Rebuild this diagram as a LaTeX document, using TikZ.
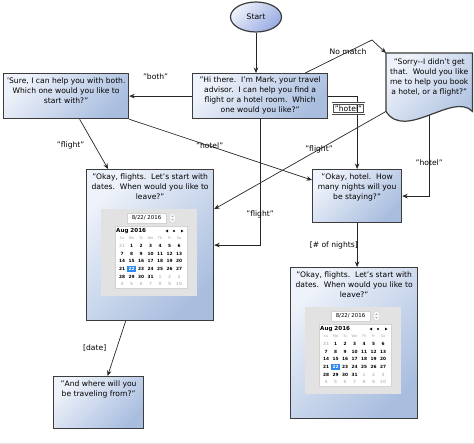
\documentclass[tikz,border=0pt]{standalone}
\usepackage{fontspec}
\setmainfont{DejaVu Sans}
\usetikzlibrary{positioning,arrows.meta,shapes.geometric}

\definecolor{boxlight}{HTML}{EEF2FA}
\definecolor{boxdark}{HTML}{A9BEDF}
\definecolor{boxline}{HTML}{3C3C3C}
\definecolor{calgray}{HTML}{E2E2E2}
\definecolor{calblue}{HTML}{2E8AEF}

\tikzset{
  box/.style={draw=boxline, line width=1.2pt, top color=boxlight, bottom color=boxdark, shading angle=45, anchor=north west, inner sep=0pt},
  startnode/.style={ellipse, draw=boxline, line width=1.2pt, top color=boxlight, bottom color=boxdark!90!blue, shading angle=45, minimum width=51pt, minimum height=30pt, inner sep=0pt, font=\fontsize{7.6}{9}\selectfont},
  boxtext/.style={font=\fontsize{7.6}{9.7}\selectfont, align=center, inner sep=0pt},
  lbl/.style={font=\fontsize{7.6}{9}\selectfont, inner sep=1pt},
  selbox/.style={lbl, draw=black!70, double=white, double distance=0.9pt, line width=0.7pt, inner sep=2pt},
  link/.style={->, draw=black!85, line width=0.7pt},
  calday/.style={font=\fontsize{4.3}{5}\selectfont\bfseries, inner sep=0pt},
  caldim/.style={calday, text=gray!45},
  calhead/.style={font=\fontsize{3.6}{4}\selectfont, text=gray!70, inner sep=0pt},
  calmonth/.style={font=\fontsize{5.6}{6}\selectfont\bfseries, inner sep=0pt},
  calfield/.style={draw=gray!35, fill=white, font=\fontsize{5.4}{6}\selectfont, inner sep=0pt},
  calframe/.style={draw=gray!35, fill=white}
}

% date picker widget, #1 = top left of the grey panel, #2 = name prefix
\newcommand{\datepicker}[2]{%
  \begin{scope}[shift={(#1)}]
    \fill[calgray] (0,0) rectangle (96,87);
    \node[calfield, minimum width=39pt, minimum height=10pt] (#2field) at (45.5,9) {8/22/ 2016};
    \draw[calframe, rounded corners=2pt] (69,4.5) rectangle (74,13.5);
    \fill[gray!60] (70.2,8) -- (72.8,8) -- (71.5,6.2) -- cycle;
    \fill[gray!60] (70.2,10) -- (72.8,10) -- (71.5,11.8) -- cycle;
    \draw[calframe] (14,17) rectangle (86,79);
    \node[calmonth, anchor=west] (#2month) at (15,22) {Aug 2016};
    \fill (64.5,22) -- (67,20.6) -- (67,23.4) -- cycle;
    \fill (73,22) circle (1.2);
    \fill (82.5,22) -- (80,20.6) -- (80,23.4) -- cycle;
    \foreach \d [count=\i] in {Su,Mo,Tu,We,Th,Fr,Sa}
      \node[calhead] (#2h\i) at (11.5+9.5*\i,29) {\d};
    \node[caldim] (#2a1) at (21,37) {31};
    \foreach \d [count=\i from 2] in {1,...,6}
      \node[calday] (#2a\i) at (11.5+9.5*\i,37) {\d};
    \foreach \d [count=\i] in {7,...,13}
      \node[calday] (#2b\i) at (11.5+9.5*\i,45) {\d};
    \foreach \d [count=\i] in {14,...,20}
      \node[calday] (#2c\i) at (11.5+9.5*\i,52) {\d};
    \fill[calblue] (26,57) rectangle (35,63);
    \node[calday] (#2d1) at (21,60) {21};
    \node[calday, text=white] (#2d2) at (30.5,60) {22};
    \foreach \d [count=\i from 3] in {23,...,27}
      \node[calday] (#2d\i) at (11.5+9.5*\i,60) {\d};
    \foreach \d [count=\i] in {28,...,31}
      \node[calday] (#2e\i) at (11.5+9.5*\i,68) {\d};
    \foreach \d [count=\i from 5] in {1,2,3}
      \node[caldim] (#2e\i) at (11.5+9.5*\i,68) {\d};
    \foreach \d [count=\i] in {4,...,10}
      \node[caldim] (#2f\i) at (11.5+9.5*\i,75) {\d};
  \end{scope}}

\begin{document}
\begin{tikzpicture}[x=1pt, y=-1pt, >={Stealth[length=5.5pt,width=4.5pt]}]
  \useasboundingbox (0,0) rectangle (474,444);
  \draw[gray!20] (0,443) -- (474,443);

  % boxes
  \node[startnode] (start) at (256,17) {Start};
  \node[box, minimum width=135pt, minimum height=45pt] (hi) at (192,73) {};
  \node[boxtext, below=4pt of hi.north] (hitext) {"Hi there.\ \ I'm Mark, your travel\\advisor.\ \ I can help you find a\\flight or a hotel room.\ \ Which\\one would you like?"};
  \node[box, minimum width=125pt, minimum height=45pt] (sure) at (3,73) {};
  \node[boxtext, below=5pt of sure.north] (suretext) {'Sure, I can help you with both.\\Which one would you like to\\start with?"};
  \node[inner sep=0pt, minimum width=86pt, minimum height=58pt, anchor=north west] (sorry) at (386,53) {};
  \shadedraw[draw=boxline, line width=1.2pt, top color=boxlight, bottom color=boxdark, shading angle=45]
    (sorry.south west) -- (sorry.north west) -- (sorry.north east) -- (sorry.south east)
    .. controls ([xshift=-19pt,yshift=20pt]sorry.south east) and ([xshift=19pt,yshift=-30pt]sorry.south west) .. (sorry.south west) -- cycle;
  \node[boxtext, below=6pt of sorry.north] (sorrytext) {"Sorry-{}-I didn't get\\that.\ \ Would you like\\me to help you book\\a hotel, or a flight?"};
  \node[box, minimum width=89pt, minimum height=53pt] (hotel) at (312,169) {};
  \node[boxtext, below=5pt of hotel.north] (hoteltext) {"Okay, hotel.\ \ How\\many nights will you\\be staying?"};
  \node[box, minimum width=127pt, minimum height=151pt] (fl1) at (86,169) {};
  \node[boxtext, below=5pt of fl1.north] (fl1text) {"Okay, flights.\ \ Let's start with\\dates.\ \ When would you like to\\leave?"};
  \datepicker{101,209}{ca}
  \node[box, minimum width=127pt, minimum height=151pt] (fl2) at (290,267) {};
  \node[boxtext, below=5pt of fl2.north] (fl2text) {"Okay, flights.\ \ Let's start with\\dates.\ \ When would you like to\\leave?"};
  \datepicker{305,307}{cb}
  \node[box, minimum width=90pt, minimum height=52pt] (aw) at (53,376) {};
  \node[boxtext, below=5pt of aw.north] (awtext) {"And where will you\\be traveling from?"};

  % connectors
  \draw[link] (start.south) -- (start.south |- hi.north);
  \draw[link] (hi.west) -- node[lbl, pos=0.58, above=15pt] (lboth) {"both"} (sure.east);
  \coordinate (nmbend) at (372,40);
  \draw[link] ([xshift=-23pt]hi.north east) -- (nmbend) -- (sorry.north west);
  \node[lbl] (lnomatch) at (348,52) {No match};
  \draw[link] (hi.east) -| (hotel.north);
  \node[selbox] (lhotelsel) at (348.5,108.5) {"hotel"};
  \draw[link] ([xshift=13.5pt]sure.south) -- node[lbl, pos=0.53, left=9pt] (lflight1) {"flight"} ([xshift=-42pt]fl1.north);
  \draw[link] (sure.south east) -- node[lbl, pos=0.44] (lhotel1) {"hotel"} ([yshift=16pt]hotel.west);
  \draw[link] (hi.south) |- node[lbl, pos=0.38] (lflight2) {"flight"} (fl1.east);
  \draw[link] (sorry.south west) -- node[lbl, pos=0.39] (lflight3) {"flight"} ([yshift=36pt]fl1.east);
  \draw[link] ([yshift=-4pt]sorry.south) |- node[lbl, pos=0.29] (lhotel2) {"hotel"} (hotel.east);
  \draw[link] (hotel.south) -- node[lbl, left=-2pt] (lnights) {[\# of nights]} (hotel.south |- fl2.north);
  \draw[link] ([xshift=-24.5pt]fl1.south) -- node[lbl, left=9pt] (ldate) {[date]} ([xshift=9pt]aw.north);
\end{tikzpicture}
\end{document}
